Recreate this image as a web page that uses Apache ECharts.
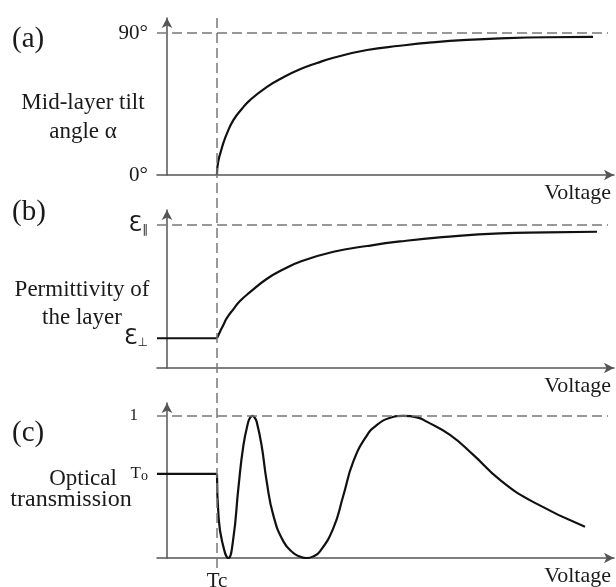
<!DOCTYPE html>
<html>
<head>
<meta charset="utf-8">
<script src="https://cdn.jsdelivr.net/npm/echarts@6/dist/echarts.min.js"></script>
<style>
  html, body { margin: 0; padding: 0; background: #fff; }
  #chart { width: 616px; height: 587px; }
</style>
</head>
<body>
<div id="chart"></div>
<script>
// voltage axis in arbitrary units, threshold Tc = 1
const tc = 1;
const xMin = -0.2;
const xMax = 8.94;

// (a) mid-layer tilt angle, degrees
const voltA = [1, 1.005, 1.02, 1.04, 1.066, 1.13, 1.2, 1.33, 1.5, 1.66, 2.0, 2.33, 2.66, 3.0, 3.33, 4.0, 4.66, 5.3, 6.0, 6.8, 7.6, 8.52];
const tiltA = [0, 3.8, 7.5, 10.8, 13.7, 20.5, 26.4, 34.9, 42.0, 47.5, 55.9, 62.0, 67.0, 71.0, 74.3, 79.2, 81.9, 84.0, 85.6, 86.7, 87.3, 87.5];

// (b) permittivity, normalised to eps parallel = 1
const epsPerp = 0.208;
const epsPar = 1;
const voltB = [1, 1.06, 1.127, 1.193, 1.333, 1.46, 1.66, 2.0, 2.33, 2.66, 3.33, 4.0, 4.66, 5.5, 6.66, 7.6, 8.6];
const permB = [epsPerp, 0.254, 0.3, 0.347, 0.414, 0.468, 0.53, 0.624, 0.69, 0.743, 0.813, 0.853, 0.885, 0.915, 0.942, 0.948, 0.953];

// (c) optical transmission, normalised to max = 1
const t0 = 0.592;
const voltC = [1, 1.03, 1.1, 1.227, 1.327, 1.427, 1.527, 1.627, 1.667, 1.707, 1.75, 1.793, 1.893, 1.993, 2.127, 2.327, 2.527,
  2.66, 2.793, 2.93, 3.06, 3.327, 3.527, 3.727, 3.993, 4.193, 4.45, 4.727, 5.0, 5.193, 5.66, 6.127, 6.66, 7.32, 8.36];
const transC = [t0, 0.30, 0.12, 0, 0.14, 0.49, 0.79, 0.96, 0.99, 1.0, 0.99, 0.96, 0.79, 0.54, 0.30, 0.117, 0.035,
  0.01, 0, 0.012, 0.046, 0.21, 0.44, 0.68, 0.86, 0.935, 0.985, 1.0, 0.99, 0.96, 0.867, 0.726, 0.55, 0.395, 0.22];

const zip = (xs, ys) => xs.map((x, i) => [x, ys[i]]);

const serif = 'Liberation Serif';
const ink = '#1a1a1a';
const axisColor = '#555';
const dashColor = '#777';
const curveColor = '#111';

function xAxisFor(gridIndex, extra) {
  return Object.assign({
    type: 'value',
    gridIndex: gridIndex,
    min: xMin,
    max: xMax,
    splitLine: { show: false },
    axisTick: { show: false },
    axisLabel: { show: false },
    axisLine: {
      onZero: true,
      symbol: ['none', 'arrow'],
      symbolSize: [8, 10],
      lineStyle: { color: axisColor, width: 1.5 }
    },
    name: 'Voltage',
    nameLocation: 'end',
    nameGap: -3,
    nameTextStyle: {
      fontFamily: serif, fontSize: 22, color: ink,
      align: 'right', verticalAlign: 'top', padding: [7, 0, 0, 0]
    }
  }, extra || {});
}

function yAxisFor(gridIndex, max, values, formatter, rich) {
  return {
    type: 'value',
    gridIndex: gridIndex,
    min: 0,
    max: max,
    splitLine: { show: false },
    axisTick: { show: false },
    axisLine: {
      onZero: true,
      symbol: ['none', 'arrow'],
      symbolSize: [8, 10],
      lineStyle: { color: axisColor, width: 1.5 }
    },
    axisLabel: {
      customValues: values,
      formatter: formatter,
      margin: 9,
      fontFamily: serif,
      fontSize: 21,
      color: ink,
      rich: rich || {}
    }
  };
}

function dashLine(y) {
  return {
    silent: true,
    symbol: 'none',
    label: { show: false },
    lineStyle: { color: dashColor, width: 1.5, type: [10, 5] },
    data: [[{ coord: [xMin, y] }, { coord: [8.82, y] }]]
  };
}

const curveStyle = { color: curveColor, width: 2.2 };

function textAt(x, y, text, size, align) {
  return {
    type: 'text', x: x, y: y,
    style: {
      text: text, font: size + 'px "Liberation Serif"', fill: ink,
      textAlign: align || 'center', textVerticalAlign: 'middle'
    }
  };
}

const option = {
  animation: false,
  backgroundColor: '#fff',
  grid: [
    { left: 157, right: 2, top: 18, height: 157, outerBoundsMode: 'none' },
    { left: 157, right: 2, top: 210, height: 158, outerBoundsMode: 'none' },
    { left: 157, right: 2, top: 403, height: 155, outerBoundsMode: 'none' },
    { left: 157, right: 2, top: 15, height: 553, outerBoundsMode: 'none' }
  ],
  xAxis: [
    xAxisFor(0),
    xAxisFor(1),
    xAxisFor(2, {
      axisLabel: {
        show: true,
        customValues: [tc],
        formatter: () => 'Tc',
        margin: 13,
        fontFamily: serif,
        fontSize: 21,
        color: ink
      }
    }),
    { type: 'value', gridIndex: 3, min: xMin, max: xMax, show: false }
  ],
  yAxis: [
    yAxisFor(0, 99.5, [0, 90], v => v + '°'),
    yAxisFor(1, 1.105, [epsPerp, epsPar],
      v => v === epsPar ? '{e|Ɛ}{s|∥}' : '{e|Ɛ}{s|⊥}',
      {
        e: { fontFamily: 'DejaVu Sans', fontSize: 22, color: ink },
        s: { fontFamily: 'DejaVu Sans', fontSize: 12, color: ink, padding: [10, 0, 0, 0] }
      }),
    yAxisFor(2, 1.091, [t0, 1],
      v => v === 1 ? '{one|1}' : '{t|T}{o|o}',
      {
        one: { fontFamily: serif, fontSize: 17, color: ink, padding: [0, 10, 0, 0] },
        t: { fontFamily: serif, fontSize: 17, color: ink },
        o: { fontFamily: serif, fontSize: 14, color: ink, padding: [4, 0, 0, 0] }
      }),
    { type: 'value', gridIndex: 3, min: 0, max: 1, show: false }
  ],
  series: [
    {
      type: 'line', xAxisIndex: 0, yAxisIndex: 0,
      data: zip(voltA, tiltA), smooth: 0.5, showSymbol: false,
      lineStyle: curveStyle, markLine: dashLine(90)
    },
    {
      type: 'line', xAxisIndex: 1, yAxisIndex: 1,
      data: [[xMin, epsPerp], [tc, epsPerp]], showSymbol: false,
      lineStyle: curveStyle, markLine: dashLine(epsPar)
    },
    {
      type: 'line', xAxisIndex: 1, yAxisIndex: 1,
      data: zip(voltB, permB), smooth: 0.5, showSymbol: false,
      lineStyle: curveStyle
    },
    {
      type: 'line', xAxisIndex: 2, yAxisIndex: 2,
      data: [[xMin, t0], [tc, t0]], showSymbol: false,
      lineStyle: curveStyle, markLine: dashLine(1)
    },
    {
      type: 'line', xAxisIndex: 2, yAxisIndex: 2,
      data: zip(voltC, transC), smooth: 0.5, showSymbol: false,
      lineStyle: curveStyle
    },
    {
      // Tc threshold line through all three panels
      type: 'line', xAxisIndex: 3, yAxisIndex: 3,
      data: [[tc, 0], [tc, 1]], showSymbol: false, silent: true,
      lineStyle: { color: dashColor, width: 1.5, type: [10, 5] }
    }
  ],
  graphic: [
    textAt(12, 39, '(a)', 29, 'left'),
    textAt(12, 212, '(b)', 29, 'left'),
    textAt(12, 433, '(c)', 29, 'left'),
    textAt(83, 103, 'Mid-layer tilt', 23),
    textAt(83, 132, 'angle α', 23),
    textAt(82, 290, 'Permittivity of', 23),
    textAt(82, 318, 'the layer', 23),
    textAt(83, 479, 'Optical', 23),
    textAt(71, 500, 'transmission', 24)
  ]
};

const chart = echarts.init(document.getElementById('chart'), null, { renderer: 'canvas' });
chart.setOption(option);
</script>
</body>
</html>
